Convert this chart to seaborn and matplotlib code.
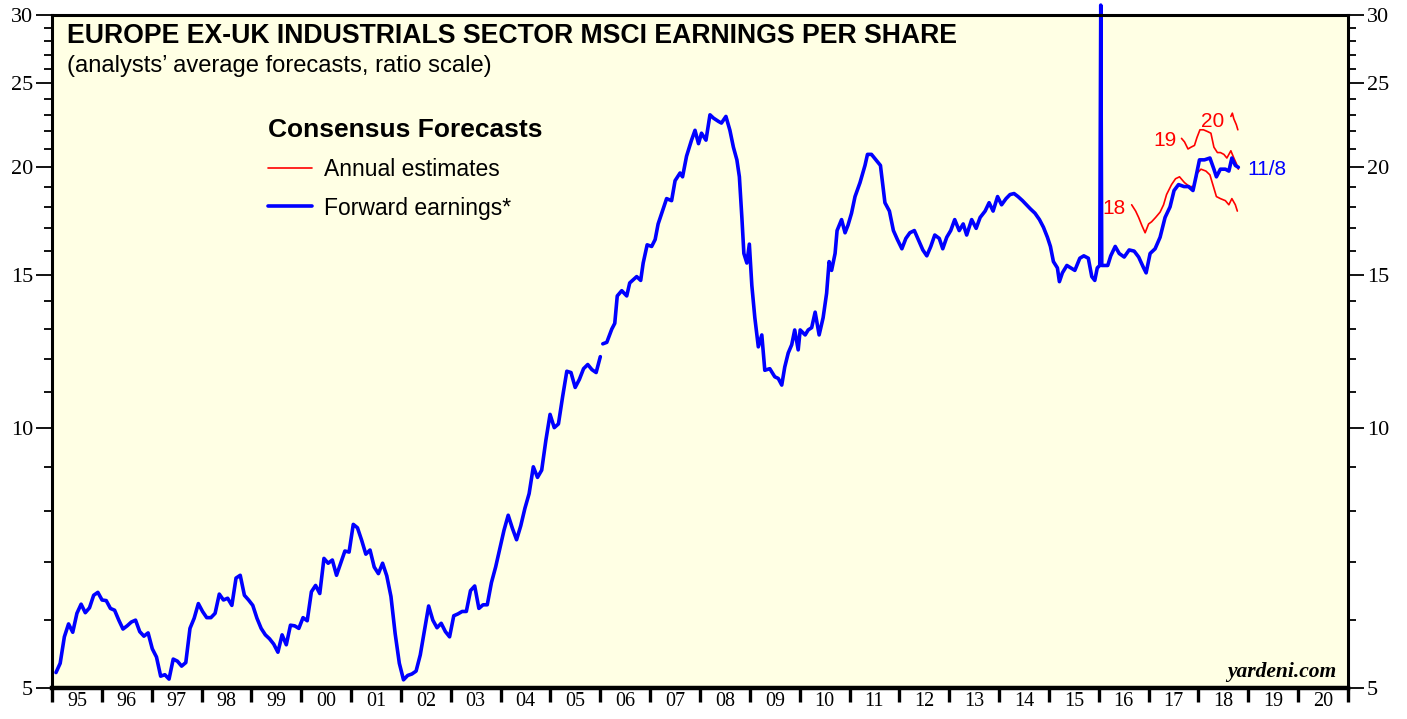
import numpy as np
import pandas as pd
import matplotlib
matplotlib.use("Agg")
import matplotlib.pyplot as plt
import seaborn as sns
from matplotlib.lines import Line2D
from matplotlib.ticker import FixedLocator, NullFormatter, FixedFormatter

# Forward earnings, monthly readings Feb 1995 - Dec 2005
fwd_early_start, fwd_early_end = 1995.08, 2006.0
fwd_early = [
    5.21, 5.34, 5.73, 5.93, 5.80, 6.10, 6.25, 6.11, 6.19, 6.40,
    6.45, 6.32, 6.31, 6.18, 6.15, 5.99, 5.85, 5.90, 5.96, 5.99,
    5.81, 5.74, 5.79, 5.55, 5.43, 5.16, 5.18, 5.12, 5.40, 5.37,
    5.30, 5.35, 5.86, 6.02, 6.26, 6.13, 6.03, 6.03, 6.10, 6.42,
    6.32, 6.35, 6.23, 6.70, 6.75, 6.40, 6.32, 6.23, 6.02, 5.86,
    5.76, 5.70, 5.62, 5.50, 5.76, 5.61, 5.91, 5.90, 5.86, 6.03,
    5.98, 6.46, 6.57, 6.43, 7.06, 6.97, 7.03, 6.75, 6.97, 7.20,
    7.18, 7.73, 7.66, 7.41, 7.14, 7.22, 6.90, 6.78, 6.97, 6.74,
    6.38, 5.78, 5.34, 5.11, 5.17, 5.19, 5.23, 5.46, 5.83, 6.22,
    5.99, 5.87, 5.94, 5.81, 5.73, 6.06, 6.09, 6.13, 6.13, 6.48,
    6.56, 6.18, 6.24, 6.24, 6.62, 6.90, 7.25, 7.61, 7.92, 7.65,
    7.42, 7.70, 8.07, 8.39, 9.01, 8.76, 8.93, 9.67, 10.36, 10.00,
    10.10, 10.86, 11.62, 11.58, 11.13, 11.37, 11.70, 11.83, 11.67, 11.58,
    12.08,
]

# Forward earnings, 2006 - 11/8/2018
fwd_late_years = [
    2006.05, 2006.13, 2006.23, 2006.29, 2006.34, 2006.43, 2006.53, 2006.59, 2006.73, 2006.81,
    2006.86, 2006.94, 2007.03, 2007.10, 2007.16, 2007.26, 2007.33, 2007.43, 2007.50, 2007.60,
    2007.65, 2007.73, 2007.83, 2007.90, 2007.97, 2008.03, 2008.12, 2008.20, 2008.27, 2008.37,
    2008.43, 2008.52, 2008.60, 2008.67, 2008.74, 2008.79, 2008.84, 2008.88, 2008.94, 2008.99,
    2009.04, 2009.10, 2009.17, 2009.24, 2009.30, 2009.40, 2009.50, 2009.57, 2009.64, 2009.70,
    2009.77, 2009.84, 2009.90, 2009.97, 2010.01, 2010.11, 2010.17, 2010.24, 2010.31, 2010.39,
    2010.47, 2010.54, 2010.59, 2010.64, 2010.71, 2010.75, 2010.84, 2010.91, 2010.97, 2011.04,
    2011.11, 2011.21, 2011.31, 2011.36, 2011.44, 2011.53, 2011.62, 2011.71, 2011.80, 2011.88,
    2011.96, 2012.05, 2012.13, 2012.21, 2012.30, 2012.38, 2012.47, 2012.55, 2012.63, 2012.71,
    2012.80, 2012.87, 2012.95, 2013.03, 2013.11, 2013.20, 2013.28, 2013.35, 2013.45, 2013.54,
    2013.62, 2013.72, 2013.80, 2013.88, 2013.97, 2014.05, 2014.14, 2014.22, 2014.30, 2014.38,
    2014.47, 2014.55, 2014.63, 2014.72, 2014.81, 2014.89, 2014.97, 2015.03, 2015.09, 2015.17,
    2015.21, 2015.27, 2015.36, 2015.44, 2015.52, 2015.62, 2015.70, 2015.79, 2015.86, 2015.92,
    2015.97, 2016.02, 2016.04, 2016.06, 2016.18, 2016.24, 2016.33, 2016.41, 2016.51, 2016.61,
    2016.71, 2016.80, 2016.90, 2016.95, 2017.03, 2017.13, 2017.23, 2017.33, 2017.43, 2017.51,
    2017.60, 2017.71, 2017.80, 2017.89, 2017.95, 2018.02, 2018.12, 2018.23, 2018.31, 2018.36,
    2018.44, 2018.54, 2018.61, 2018.67, 2018.74, 2018.80,
]
fwd_late = [
    12.50, 12.55, 13.00, 13.20, 14.20, 14.40, 14.20, 14.70, 14.95, 14.80,
    15.50, 16.27, 16.20, 16.50, 17.20, 17.90, 18.40, 18.30, 19.30, 19.70,
    19.50, 20.60, 21.50, 22.07, 21.30, 21.90, 21.50, 23.00, 22.80, 22.60,
    22.50, 22.90, 22.07, 21.10, 20.40, 19.50, 17.50, 15.90, 15.50, 16.30,
    14.60, 13.40, 12.40, 12.80, 11.65, 11.70, 11.45, 11.40, 11.20, 11.75,
    12.20, 12.47, 12.97, 12.30, 12.97, 12.80, 12.97, 13.05, 13.60, 12.80,
    13.40, 14.30, 15.56, 15.20, 15.90, 16.90, 17.40, 16.80, 17.15, 17.70,
    18.50, 19.20, 20.10, 20.70, 20.70, 20.40, 20.10, 18.20, 17.80, 16.90,
    16.50, 16.10, 16.55, 16.80, 16.90, 16.50, 16.05, 15.80, 16.20, 16.70,
    16.55, 16.10, 16.60, 16.90, 17.40, 16.90, 17.20, 16.70, 17.40, 17.00,
    17.50, 17.80, 18.20, 17.80, 18.50, 18.10, 18.40, 18.60, 18.65, 18.50,
    18.30, 18.10, 17.90, 17.70, 17.40, 17.05, 16.60, 16.20, 15.56, 15.30,
    14.75, 15.10, 15.40, 15.30, 15.20, 15.70, 15.80, 15.70, 14.95, 14.80,
    15.30, 15.40, 30.80, 15.40, 15.40, 15.80, 16.20, 15.90, 15.75, 16.05,
    16.00, 15.75, 15.30, 15.10, 15.90, 16.10, 16.60, 17.50, 18.00, 18.80,
    19.10, 19.00, 19.00, 18.80, 19.50, 20.40, 20.40, 20.50, 19.90, 19.50,
    19.90, 19.90, 19.80, 20.50, 20.10, 20.00,
]

# Annual estimates
est18_years = [2016.66, 2016.74, 2016.80, 2016.87, 2016.93, 2017.00, 2017.06, 2017.14, 2017.23, 2017.30,
               2017.36, 2017.46, 2017.54, 2017.62, 2017.72, 2017.82, 2017.90, 2017.98, 2018.05, 2018.15,
               2018.23, 2018.30, 2018.36, 2018.44, 2018.54, 2018.61, 2018.67, 2018.74, 2018.78]
est18 = [18.1, 17.8, 17.5, 17.1, 16.8, 17.2, 17.3, 17.5, 17.75, 18.1,
         18.6, 19.1, 19.4, 19.5, 19.2, 19.0, 19.0, 19.7, 19.9, 19.8,
         19.6, 19.0, 18.5, 18.4, 18.3, 18.1, 18.4, 18.1, 17.8]
est19_years = [2017.66, 2017.72, 2017.79, 2017.85, 2017.92, 2017.97, 2018.03, 2018.10, 2018.18, 2018.25,
               2018.31, 2018.38, 2018.44, 2018.51, 2018.57, 2018.65, 2018.71, 2018.76, 2018.80]
est19 = [21.6, 21.4, 21.0, 21.1, 21.2, 21.65, 22.1, 22.1, 22.0, 21.9,
         21.1, 20.8, 20.8, 20.7, 20.5, 20.9, 20.5, 20.2, 19.9]
est20_years = [2018.65, 2018.68, 2018.71, 2018.76, 2018.79]
est20 = [22.9, 23.1, 22.75, 22.4, 22.1]

year_labels = ["95", "96", "97", "98", "99", "00", "01", "02", "03", "04", "05", "06", "07",
               "08", "09", "10", "11", "12", "13", "14", "15", "16", "17", "18", "19", "20"]

BLUE = "#0000ff"
RED = "#ff0000"

sns.set_style("ticks")
plt.rcParams["font.family"] = ["Liberation Sans", "DejaVu Sans"]
plt.rcParams["text.color"] = "black"
plt.rcParams["xtick.color"] = "black"
plt.rcParams["ytick.color"] = "black"
plt.rcParams["axes.labelcolor"] = "black"

fig, ax = plt.subplots(figsize=(14.07, 7.19), dpi=100)
fig.subplots_adjust(left=52 / 1407, right=1348 / 1407, bottom=31 / 719, top=704 / 719)
ax.set_facecolor("#ffffe4")

early = pd.DataFrame({
    "year": np.linspace(fwd_early_start, fwd_early_end, len(fwd_early)),
    "eps": fwd_early,
})
late = pd.DataFrame({"year": fwd_late_years, "eps": fwd_late})

for df in (early, late):
    sns.lineplot(data=df, x="year", y="eps", ax=ax, color=BLUE, lw=2.6,
                 estimator=None, sort=False, clip_on=False, zorder=4)

for yrs, vals in ((est18_years, est18), (est19_years, est19), (est20_years, est20)):
    sns.lineplot(x=yrs, y=vals, ax=ax, color=RED, lw=1.2, estimator=None, sort=False, zorder=3)

# Axes, log scale
ax.set_yscale("log")
ax.set_ylim(5, 30)
ax.set_xlim(1995, 2021)
ax.yaxis.set_major_locator(FixedLocator([5, 10, 15, 20, 25, 30]))
ax.yaxis.set_major_formatter(FixedFormatter(["5", "10", "15", "20", "25", "30"]))
ax.yaxis.set_minor_locator(FixedLocator([6, 7, 8, 9, 11, 12, 13, 14, 16, 17, 18, 19,
                                         21, 22, 23, 24, 26, 27, 28, 29]))
ax.yaxis.set_minor_formatter(NullFormatter())
ax.tick_params(axis="y", which="both", left=True, right=True, labelleft=True, labelright=True,
               direction="out", width=1.3, color="black", labelcolor="black")
ax.tick_params(axis="y", which="major", length=11.5, pad=2,
               labelsize=16, labelfontfamily="Liberation Serif")
ax.tick_params(axis="y", which="minor", length=6)

ax.xaxis.set_major_locator(FixedLocator(np.arange(1995, 2022)))
ax.xaxis.set_major_formatter(NullFormatter())
ax.xaxis.set_minor_locator(FixedLocator(np.arange(1995, 2021) + 0.5))
ax.xaxis.set_minor_formatter(FixedFormatter(year_labels))
ax.tick_params(axis="x", which="major", length=10, width=2.4, direction="out", color="black")
ax.tick_params(axis="x", which="minor", length=0, pad=3, labelsize=14.5,
               labelfontfamily="Liberation Serif", labelcolor="black")
ax.set_xlabel("")
ax.set_ylabel("")

for side in ("left", "right", "top"):
    ax.spines[side].set_linewidth(2.2)
    ax.spines[side].set_color("black")
ax.spines["bottom"].set_linewidth(3.2)
ax.spines["bottom"].set_color("black")
for s in ax.spines.values():
    s.set_visible(True)
    s.set_zorder(5)

# Titles
fig.text(67 / 1407, 1 - 36 / 719, "EUROPE EX-UK INDUSTRIALS SECTOR MSCI EARNINGS PER SHARE",
         fontsize=19.2, fontweight="bold", ha="left", va="center", color="black")
fig.text(67 / 1407, 1 - 66 / 719, "(analysts\u2019 average forecasts, ratio scale)",
         fontsize=17.1, ha="left", va="center", color="black")

# Legend
handles = [Line2D([], [], color=RED, lw=1.2), Line2D([], [], color=BLUE, lw=2.6)]
leg = ax.legend(handles, ["Annual estimates", "Forward earnings*"],
                title="Consensus Forecasts", alignment="left",
                loc="upper left", bbox_to_anchor=((250 - 52) / 1296, (688 - 100) / 673),
                frameon=False, fontsize=16.5, handlelength=1.9, handletextpad=0.55,
                labelspacing=0.68, borderpad=0.3,
                title_fontproperties={"weight": "bold", "size": 19.0})
for t in leg.get_texts():
    t.set_color("black")
leg.get_title().set_color("black")

# Series labels
ax.text(2016.30, 17.9, "18", color=RED, fontsize=15, ha="center", va="center")
ax.text(2017.33, 21.5, "19", color=RED, fontsize=15, ha="center", va="center")
ax.text(2018.29, 22.6, "20", color=RED, fontsize=15, ha="center", va="center")
ax.text(2018.99, 19.9, "11/8", color=BLUE, fontsize=15, ha="left", va="center")

ax.text(0.991, 0.024, "yardeni.com", transform=ax.transAxes, ha="right", va="center",
        fontsize=15.5, fontweight="bold", fontstyle="italic", family="Liberation Serif",
        color="black")

fig.savefig("out.png", dpi=100, facecolor="white")
